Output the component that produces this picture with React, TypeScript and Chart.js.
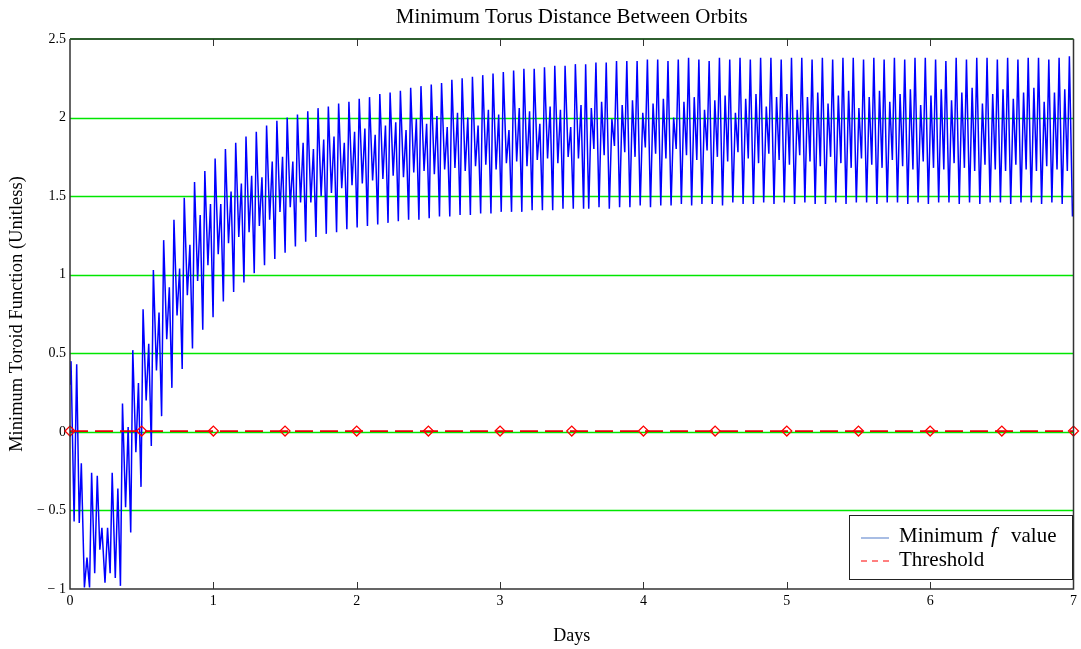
import React, { useEffect, useRef } from 'react';
import { Chart, registerables } from 'chart.js';

Chart.register(...registerables);

const titleText = 'Minimum Torus Distance Between Orbits';
const xAxisTitle = 'Days';
const yAxisTitle = 'Minimum Toroid Function (Unitless)';
const seriesName = ['Minimum', 'f', 'value'];
const thresholdName = 'Threshold';

const xTickValues = [0, 1, 2, 3, 4, 5, 6, 7];
const xTickLabels = ['0', '1', '2', '3', '4', '5', '6', '7'];
const yTickValues = [-1, -0.5, 0, 0.5, 1, 1.5, 2, 2.5];
const yTickLabels = ['\u2212 1', '\u2212 0.5', '0', '0.5', '1', '1.5', '2', '2.5'];
const yGridValues = [-0.5, 0, 0.5, 1, 1.5, 2];

// blue series: one oscillation cycle = tall peak, after-peak low, middle peak, before-peak low
const startValue = 0.3;
const cyclesInRange = 97.5;
const peakValues = [
  0.45, -0.2, -0.26, -0.61, -0.26, 0.18, 0.52, 0.78, 1.03, 1.22,
  1.35, 1.49, 1.59, 1.66, 1.74, 1.8, 1.84, 1.88, 1.91, 1.95,
  1.98, 2.0, 2.02, 2.04, 2.06, 2.07, 2.09, 2.1, 2.12, 2.13,
  2.15, 2.16, 2.17, 2.19, 2.2, 2.21, 2.22, 2.24, 2.25, 2.26,
  2.27, 2.28, 2.29, 2.3, 2.31, 2.31, 2.32, 2.33, 2.33, 2.34,
  2.34, 2.35, 2.35, 2.36, 2.36, 2.36, 2.37, 2.37, 2.36, 2.37,
  2.38, 2.37, 2.36, 2.38, 2.37, 2.38, 2.37, 2.38, 2.38, 2.37,
  2.38, 2.38, 2.37, 2.38, 2.37, 2.38, 2.38, 2.37, 2.38, 2.37,
  2.38, 2.37, 2.38, 2.38, 2.37, 2.36, 2.38, 2.37, 2.38, 2.38,
  2.37, 2.38, 2.37, 2.38, 2.38, 2.37, 2.38, 2.39,
];
const afterPeakValues = [
  -0.57, -0.99, -0.9, -0.96, -0.93, -0.48, -0.13, 0.2, 0.39, 0.59,
  0.74, 0.87, 0.96, 1.06, 1.13, 1.2, 1.24, 1.27, 1.31, 1.35,
  1.4, 1.43, 1.46, 1.46, 1.5, 1.52, 1.55, 1.57, 1.58, 1.6,
  1.61, 1.63, 1.62, 1.65, 1.66, 1.64, 1.67, 1.68, 1.66, 1.69,
  1.7, 1.67, 1.71, 1.72, 1.69, 1.73, 1.74, 1.71, 1.75, 1.74,
  1.42, 1.43, 1.42, 1.43, 1.43, 1.44, 1.43, 1.44, 1.44, 1.45,
  1.44, 1.45, 1.45, 1.44, 1.46, 1.45, 1.45, 1.46, 1.45, 1.46,
  1.45, 1.46, 1.45, 1.45, 1.46, 1.45, 1.46, 1.46, 1.45, 1.46,
  1.46, 1.45, 1.46, 1.45, 1.46, 1.46, 1.45, 1.46, 1.45, 1.46,
  1.46, 1.45, 1.46, 1.46, 1.45, 1.46, 1.45, 1.37,
];
const midValues = [
  0.43, -0.8, -0.28, -0.61, -0.36, 0.03, 0.31, 0.56, 0.76, 0.92,
  1.04, 1.19, 1.38, 1.45, 1.45, 1.53, 1.58, 1.63, 1.62, 1.72,
  1.75, 1.72, 1.84, 1.8, 1.86, 1.88, 1.84, 1.91, 1.93, 1.89,
  1.95, 1.97, 1.92, 1.99, 1.96, 2.01, 1.94, 2.03, 2.0, 1.95,
  2.05, 2.02, 1.92, 2.06, 2.04, 1.96, 2.07, 2.05, 1.94, 2.08,
  2.06, 2.1, 1.99, 2.08, 2.11, 2.03, 2.09, 2.12, 2.0, 2.1,
  2.13, 2.05, 2.11, 2.14, 2.03, 2.12, 2.15, 2.07, 2.13, 2.15,
  2.05, 2.13, 2.16, 2.09, 2.14, 2.17, 2.06, 2.13, 2.17, 2.1,
  2.15, 2.18, 2.08, 2.14, 2.18, 2.11, 2.16, 2.19, 2.09, 2.15,
  2.18, 2.12, 2.16, 2.19, 2.1, 2.16, 2.18, 2.13,
];
const beforePeakValues = [
  -0.58, -0.99, -0.75, -0.9, -0.98, -0.64, -0.35, -0.09, 0.1, 0.28,
  0.4, 0.53, 0.65, 0.73, 0.83, 0.89, 0.95, 1.01, 1.06, 1.1,
  1.14, 1.18, 1.21, 1.24, 1.26, 1.27, 1.29, 1.3, 1.31, 1.32,
  1.33, 1.34, 1.35, 1.35, 1.36, 1.37, 1.37, 1.38, 1.38, 1.39,
  1.39, 1.4, 1.4, 1.4, 1.41, 1.41, 1.41, 1.42, 1.42, 1.42,
  1.8, 1.76, 1.82, 1.78, 1.75, 1.81, 1.77, 1.74, 1.8, 1.76,
  1.73, 1.79, 1.75, 1.72, 1.78, 1.74, 1.71, 1.77, 1.73, 1.7,
  1.76, 1.72, 1.69, 1.75, 1.71, 1.68, 1.74, 1.7, 1.68, 1.73,
  1.69, 1.67, 1.72, 1.68, 1.67, 1.71, 1.68, 1.66, 1.7, 1.67,
  1.66, 1.7, 1.67, 1.66, 1.69, 1.67, 1.66, 1.68,
];
const cyclePhases = [0.1, 0.4, 0.65, 0.9];

const thresholdDays = [0, 0.5, 1, 1.5, 2, 2.5, 3, 3.5, 4, 4.5, 5, 5.5, 6, 6.5, 7];
const thresholdValue = 0.005;

const SERIF = '"Liberation Serif", "Times New Roman", serif';
const GRID_GREEN = 'rgb(0, 230, 0)';

function buildSeries() {
  const cycleLength = 7 / cyclesInRange;
  const pts: { x: number; y: number }[] = [{ x: 0, y: startValue }];
  peakValues.forEach((p, k) => {
    const vals = [p, afterPeakValues[k], midValues[k], beforePeakValues[k]];
    vals.forEach((v, j) => {
      const x = (k + cyclePhases[j]) * cycleLength;
      if (x <= 7) pts.push({ x, y: v });
    });
  });
  return pts;
}

const decorPlugin = {
  id: 'decor',
  beforeDatasetsDraw(chart: any) {
    const { ctx, chartArea } = chart;
    const ys = chart.scales.y;
    ctx.save();
    ctx.strokeStyle = GRID_GREEN;
    ctx.lineWidth = 1.3;
    yGridValues.forEach((v) => {
      const py = Math.round(ys.getPixelForValue(v)) + 0.5;
      ctx.beginPath();
      ctx.moveTo(chartArea.left, py);
      ctx.lineTo(chartArea.right, py);
      ctx.stroke();
    });
    ctx.restore();
  },
  afterDraw(chart: any) {
    const { ctx, chartArea } = chart;
    const { left, right, top, bottom } = chartArea;
    const xs = chart.scales.x;
    ctx.save();
    // title
    ctx.fillStyle = '#000';
    ctx.textAlign = 'center';
    ctx.textBaseline = 'middle';
    ctx.font = `21px ${SERIF}`;
    ctx.fillText(titleText, (left + right) / 2, 17);
    // x title
    ctx.font = `18px ${SERIF}`;
    ctx.fillText(xAxisTitle, (left + right) / 2, 636);
    // y title
    ctx.save();
    ctx.translate(17, (top + bottom) / 2);
    ctx.rotate(-Math.PI / 2);
    ctx.font = `18.5px ${SERIF}`;
    ctx.fillText(yAxisTitle, 0, 0);
    ctx.restore();

    // frame
    ctx.lineWidth = 1.5;
    ctx.strokeStyle = '#333';
    ctx.beginPath();
    ctx.moveTo(left, top);
    ctx.lineTo(left, bottom);
    ctx.lineTo(right, bottom);
    ctx.lineTo(right, top);
    ctx.stroke();
    ctx.strokeStyle = '#2f5f2f';
    ctx.lineWidth = 2;
    ctx.beginPath();
    ctx.moveTo(left, top);
    ctx.lineTo(right, top);
    ctx.stroke();

    // inner x ticks
    ctx.strokeStyle = '#333';
    ctx.lineWidth = 1;
    xTickValues.forEach((v) => {
      if (v === 0 || v === 7) return;
      const px = Math.round(xs.getPixelForValue(v)) + 0.5;
      ctx.beginPath();
      ctx.moveTo(px, bottom);
      ctx.lineTo(px, bottom - 7);
      ctx.moveTo(px, top);
      ctx.lineTo(px, top + 7);
      ctx.stroke();
    });

    // legend
    const bx = 849.5, by = 515.5, bw = 223, bh = 64;
    ctx.fillStyle = '#fff';
    ctx.fillRect(bx, by, bw, bh);
    ctx.strokeStyle = '#222';
    ctx.lineWidth = 1;
    ctx.strokeRect(bx, by, bw, bh);
    ctx.strokeStyle = 'rgb(110,145,210)';
    ctx.lineWidth = 1.2;
    ctx.beginPath();
    ctx.moveTo(861, 538);
    ctx.lineTo(889, 538);
    ctx.stroke();
    ctx.strokeStyle = 'red';
    ctx.setLineDash([6, 5]);
    ctx.beginPath();
    ctx.moveTo(861, 561);
    ctx.lineTo(891, 561);
    ctx.stroke();
    ctx.setLineDash([]);
    ctx.fillStyle = '#000';
    ctx.textAlign = 'left';
    ctx.textBaseline = 'alphabetic';
    ctx.font = `21px ${SERIF}`;
    ctx.fillText(seriesName[0], 899, 542);
    ctx.font = `italic 21px ${SERIF}`;
    ctx.fillText(seriesName[1], 991, 542);
    ctx.font = `21px ${SERIF}`;
    ctx.fillText(seriesName[2], 1011, 542);
    ctx.fillText(thresholdName, 899, 566);
    ctx.restore();
  },
};

export default function App() {
  const ref = useRef<HTMLCanvasElement | null>(null);
  useEffect(() => {
    if (!ref.current) return;
    const series = buildSeries();
    const chart = new Chart(ref.current, {
      type: 'line',
      data: {
        datasets: [
          {
            label: thresholdName,
            data: thresholdDays.map((d) => ({ x: d, y: thresholdValue })),
            borderColor: 'rgb(230,0,0)',
            borderWidth: 1.7,
            borderDash: [18, 7],
            pointStyle: 'rectRot',
            pointRadius: 5,
            pointBorderColor: 'red',
            pointBackgroundColor: 'rgba(0,0,0,0)',
            pointBorderWidth: 1.3,
            order: 0,
            clip: 8,
          },
          {
            label: 'Minimum f value',
            data: series,
            borderColor: '#0000ff',
            borderWidth: 1.5,
            pointRadius: 0,
            tension: 0,
            order: 1,
          },
        ],
      },
      options: {
        animation: false,
        responsive: false,
        devicePixelRatio: 1,
        parsing: false,
        normalized: true,
        layout: { padding: { top: 39, right: 5, left: 0, bottom: 0 } },
        plugins: {
          legend: { display: false },
          title: { display: false },
          tooltip: { enabled: false },
        },
        scales: {
          x: {
            type: 'linear',
            min: 0,
            max: 7,
            afterBuildTicks: (s: any) => {
              s.ticks = xTickValues.map((v) => ({ value: v }));
            },
            afterFit: (s: any) => {
              s.height = 60;
            },
            ticks: {
              autoSkip: false,
              maxRotation: 0,
              padding: 4,
              color: '#000',
              font: { family: SERIF, size: 14 },
              callback: (_v: any, i: number) => xTickLabels[i],
            },
            grid: { display: false, drawTicks: false },
            border: { display: false },
          },
          y: {
            type: 'linear',
            min: -1,
            max: 2.5,
            afterBuildTicks: (s: any) => {
              s.ticks = yTickValues.map((v) => ({ value: v }));
            },
            afterFit: (s: any) => {
              s.width = 70;
            },
            ticks: {
              autoSkip: false,
              padding: 4,
              color: '#000',
              font: { family: SERIF, size: 14 },
              callback: (_v: any, i: number) => yTickLabels[i],
            },
            grid: { display: false, drawTicks: false },
            border: { display: false },
          },
        },
      },
      plugins: [decorPlugin],
    } as any);
    return () => chart.destroy();
  }, []);

  return (
    <div style={{ position: 'fixed', left: 0, top: 0, width: 1081, height: 649, background: '#fff' }}>
      <canvas ref={ref} width={1081} height={649} style={{ width: 1081, height: 649, display: 'block' }} />
    </div>
  );
}
